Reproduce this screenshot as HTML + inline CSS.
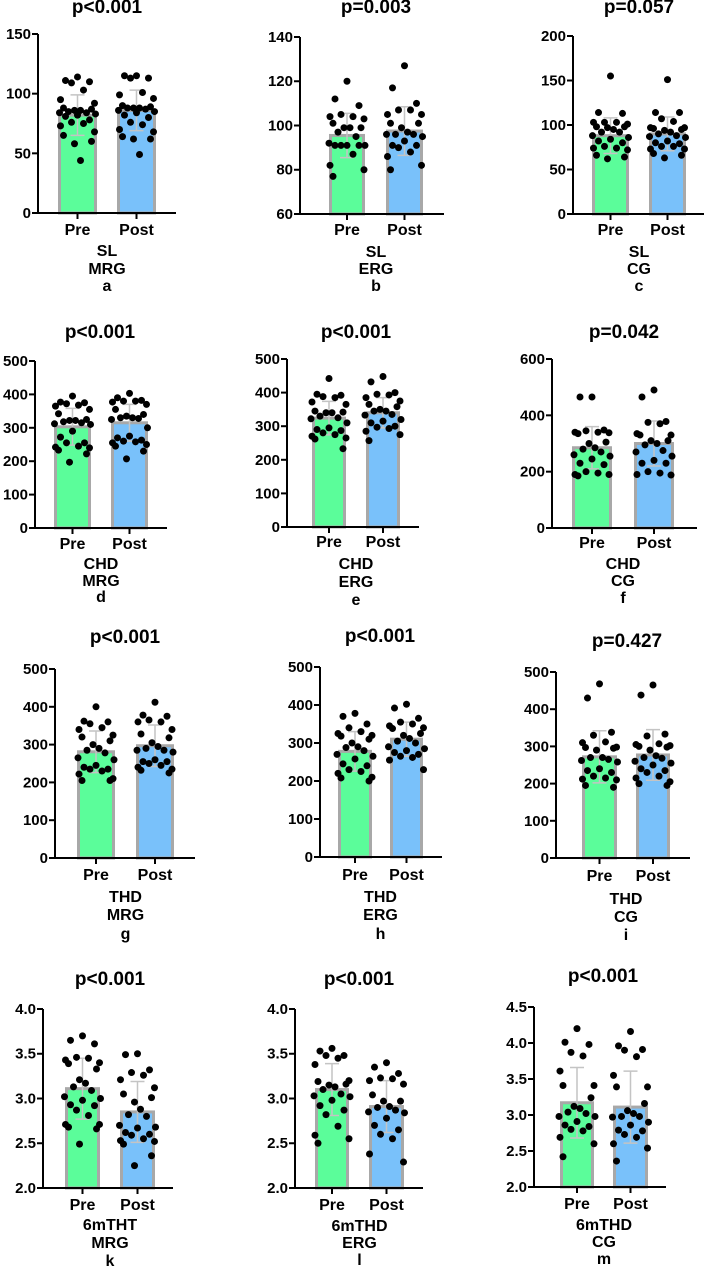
<!DOCTYPE html>
<html><head><meta charset="utf-8"><style>
html,body{margin:0;padding:0;background:#fff}
svg{display:block;font-family:"Liberation Sans",Arial,sans-serif;font-weight:bold}
</style></head><body>
<svg id="fig" width="706" height="1266" viewBox="0 0 706 1266" xmlns="http://www.w3.org/2000/svg"></svg>
<script>
// ---- data ----
const categories = ["Pre","Post"];
const titles = ["p<0.001","p=0.003","p=0.057","p<0.001","p<0.001","p=0.042","p<0.001","p<0.001","p=0.427","p<0.001","p<0.001","p<0.001"];
const xLabels1 = ["SL","SL","SL","CHD","CHD","CHD","THD","THD","THD","6mTHT","6mTHD","6mTHD"];
const xLabels2 = ["MRG","ERG","CG","MRG","ERG","CG","MRG","ERG","CG","MRG","ERG","CG"];
const panelLetters = ["a","b","c","d","e","f","g","h","i","k","l","m"];
const yTicks = [[0,50,100,150],[60,80,100,120,140],[0,50,100,150,200],[0,100,200,300,400,500],[0,100,200,300,400,500],[0,200,400,600],[0,100,200,300,400,500],[0,100,200,300,400,500],[0,100,200,300,400,500],[2.0,2.5,3.0,3.5,4.0],[2.0,2.5,3.0,3.5,4.0],[2.0,2.5,3.0,3.5,4.0,4.5]];
const preMeans = [82,95.5,88,303,324,285,281,278,272,3.11,3.10,3.17];
const postMeans = [86,97.5,90,315,340,300,297,310,277,2.85,2.91,3.11];
const preSD = [17,10,20,55,50,75,55,52,70,0.34,0.29,0.49];
const postSD = [17,11,19,55,45,80,55,45,68,0.34,0.29,0.50];
const prePoints = [
[114,111,110,109,103,95,92,88,87,86,86,85,84,84,83,82,81,78,76,75,73,68,65,60,58,44],
[120,112,109,105,104,104,103,101,99,99,99,97,95,92,91,91,91,91,91,87,82,80,77],
[155,114,113,103,103,103,101,98,98,97,95,92,92,88,86,84,82,80,76,74,74,72,66,64,62],
[395,377,375,372,368,365,355,342,325,322,322,318,315,312,310,290,272,255,255,245,242,240,233,222,197],
[442,395,392,388,385,372,365,345,342,340,340,330,325,322,310,295,290,287,280,275,270,265,262,233],
[465,465,348,345,340,340,338,335,305,300,285,280,270,260,255,245,230,225,200,195,190,190,185],
[400,362,360,355,345,340,325,320,310,300,290,285,278,265,260,245,240,235,235,230,222,210,205,205],
[378,370,350,340,330,325,320,318,310,300,290,288,280,270,265,258,245,240,230,225,220,210,208,200],
[468,430,338,330,312,310,298,297,295,290,270,270,265,262,258,240,235,230,220,215,212,210,195,190],
[3.70,3.65,3.61,3.46,3.45,3.43,3.40,3.39,3.33,3.21,3.17,3.13,3.09,3.02,3.00,2.98,2.93,2.92,2.87,2.81,2.71,2.71,2.68,2.66,2.49],
[3.56,3.53,3.48,3.48,3.45,3.38,3.20,3.19,3.16,3.15,3.13,3.10,3.05,3.03,3.02,2.98,2.92,2.87,2.82,2.69,2.59,2.55,2.50],
[4.20,4.01,3.98,3.87,3.82,3.61,3.41,3.41,3.24,3.12,3.09,3.04,3.02,2.98,2.98,2.91,2.86,2.84,2.80,2.78,2.69,2.60,2.42]];
const postPoints = [
[115,115,113,113,101,99,96,90,89,88,88,88,87,86,85,84,82,80,76,74,70,68,64,62,62,49],
[127,117,110,107,107,105,105,101,101,99,97,96,96,96,95,93,91,91,90,88,86,82,80],
[151,114,114,107,104,97,97,96,95,94,92,90,88,87,86,82,80,79,76,76,73,73,68,66,63],
[403,390,382,380,380,377,370,355,340,335,330,330,328,325,300,275,270,263,260,258,255,250,245,230,207],
[448,432,400,395,393,385,375,365,358,350,345,345,335,333,320,315,310,300,297,293,285,275,257],
[490,465,378,375,370,335,330,330,310,310,300,295,275,270,255,240,230,230,200,195,190,188],
[412,378,375,365,360,360,340,328,318,305,295,290,285,285,280,260,255,255,250,245,240,235,232,225],
[402,392,365,355,350,345,340,338,325,320,312,305,300,290,285,280,275,270,265,262,255,230],
[465,438,333,328,307,305,302,300,298,290,275,270,268,260,255,250,240,235,230,220,215,205,200,195],
[3.50,3.49,3.32,3.29,3.26,3.21,3.12,3.05,3.01,2.96,2.88,2.82,2.80,2.70,2.68,2.67,2.62,2.60,2.59,2.55,2.53,2.52,2.49,2.36,2.25],
[3.40,3.35,3.28,3.23,3.22,3.20,3.16,3.04,2.97,2.97,2.91,2.90,2.87,2.85,2.84,2.78,2.70,2.65,2.60,2.55,2.38,2.29],
[4.16,3.96,3.91,3.90,3.81,3.55,3.39,3.39,3.16,3.06,3.02,2.98,2.98,2.97,2.90,2.86,2.79,2.78,2.73,2.69,2.60,2.54,2.36]];

// ---- layout (pixel geometry) ----
const layout = [
{ax:38,top:34,bot:213,pre:[58,97],post:[117,156],end:176,tx:107,ty:8,ly:[231,252,270,287]},
{ax:300,top:37,bot:214,pre:[329,365],post:[386,423],end:444,tx:376,ty:8,ly:[231,253,270,287]},
{ax:573,top:36,bot:214,pre:[592,629],post:[649,686],end:704,tx:639,ty:8,ly:[231,253,270,287]},
{ax:35,top:361,bot:528,pre:[54,91],post:[111,148],end:167,tx:100,ty:333,ly:[545,565,582,598]},
{ax:287,top:359,bot:527,pre:[312,346],post:[366,400],end:419,tx:356,ty:333,ly:[543,565,583,601]},
{ax:552,top:359,bot:528,pre:[572,612],post:[634,674],end:697,tx:624,ty:333,ly:[544,565,582,599]},
{ax:55,top:669,bot:858,pre:[77,115],post:[136,174],end:195,tx:125,ty:638,ly:[876,898,916,935]},
{ax:320,top:667,bot:857,pre:[338,372],post:[390,423],end:442,tx:380,ty:637,ly:[876,898,916,935]},
{ax:556,top:672,bot:858,pre:[582,617],post:[636,670],end:690,tx:627,ty:642,ly:[877,900,918,936]},
{ax:43,top:1009,bot:1188,pre:[65,100],post:[120,155],end:173,tx:110,ty:980,ly:[1206,1226,1244,1262]},
{ax:295,top:1009,bot:1188,pre:[315,349],post:[369,404],end:423,tx:359,ty:980,ly:[1206,1227,1244,1261]},
{ax:534,top:1007,bot:1187,pre:[560,594],post:[613,648],end:666,tx:603,ty:977,ly:[1205,1226,1243,1260]}];

const NS="http://www.w3.org/2000/svg";
const svg=document.getElementById('fig');
function mk(tag,attrs,parent){const e=document.createElementNS(NS,tag);for(const k in attrs)e.setAttribute(k,attrs[k]);(parent||svg).appendChild(e);return e;}
const jitter=[0,-12,12,-6,6,-17,17,-14,14,-3,3,-9,9,-18,18];

layout.forEach((L,p)=>{
  const g=mk('g',{});
  
  
  const ticks=yTicks[p];const ymin=ticks[0],ymax=ticks[ticks.length-1];
  const y=v=>L.bot-(v-ymin)/(ymax-ymin)*(L.bot-L.top);
  const dec=ymax<10;
  const t=mk('text',{x:L.tx,y:L.ty,'text-anchor':'middle','dominant-baseline':'middle','font-size':19},g);
  t.textContent=titles[p];
  
  
  const groups=[{c:categories[0],r:L.pre,m:preMeans[p],s:preSD[p],pts:prePoints[p],fill:'#5bfd9a'},
                {c:categories[1],r:L.post,m:postMeans[p],s:postSD[p],pts:postPoints[p],fill:'#79c1fa'}];
  groups.forEach((G,gi)=>{
    const cx=(G.r[0]+G.r[1])/2;
    const bar=mk('rect',{x:G.r[0]+1.5,y:y(G.m),width:G.r[1]-G.r[0]-3,height:L.bot-y(G.m),fill:G.fill,stroke:'#a8a8a8','stroke-width':3},g);
    
    
    const eb=mk('path',{d:`M${cx-7},${y(G.m+G.s)}H${cx+7}M${cx},${y(G.m+G.s)}V${y(G.m-G.s)}M${cx-7},${y(G.m-G.s)}H${cx+7}`,stroke:'#c4c4c4','stroke-width':1.5,fill:'none'},g);
    
    
    G.pts.forEach((v,i)=>{
      const d=mk('circle',{cx:cx+jitter[i%jitter.length],cy:y(v),r:3.5,fill:'#000'},g);
      
      
    });
    mk('line',{x1:cx,x2:cx,y1:L.bot,y2:L.bot+6,stroke:'#000','stroke-width':2},g);
    const xl=mk('text',{x:cx,y:L.ly[0],'text-anchor':'middle','dominant-baseline':'middle','font-size':16},g);
    xl.textContent=G.c;
    
    
  });
  const axis=mk('path',{d:`M${L.ax},${L.top}V${L.bot}H${L.end}`,stroke:'#000','stroke-width':2,fill:'none'},g);
  
  
  ticks.forEach(v=>{
    mk('line',{x1:L.ax-6,x2:L.ax,y1:y(v),y2:y(v),stroke:'#000','stroke-width':2},g);
    const tl=mk('text',{x:L.ax-7,y:y(v)+1,'text-anchor':'end','dominant-baseline':'middle','font-size':15},g);
    tl.textContent=dec?v.toFixed(1):String(v);
    
    
  });
  const labs=[xLabels1[p],xLabels2[p],panelLetters[p]];
  const lcx=(L.pre[0]+L.post[1])/2;
  labs.forEach((s,i)=>{
    const e=mk('text',{x:lcx,y:L.ly[i+1],'text-anchor':'middle','dominant-baseline':'middle','font-size':16},g);
    e.textContent=s;
    
    
  });
});
</script>
</body></html>
